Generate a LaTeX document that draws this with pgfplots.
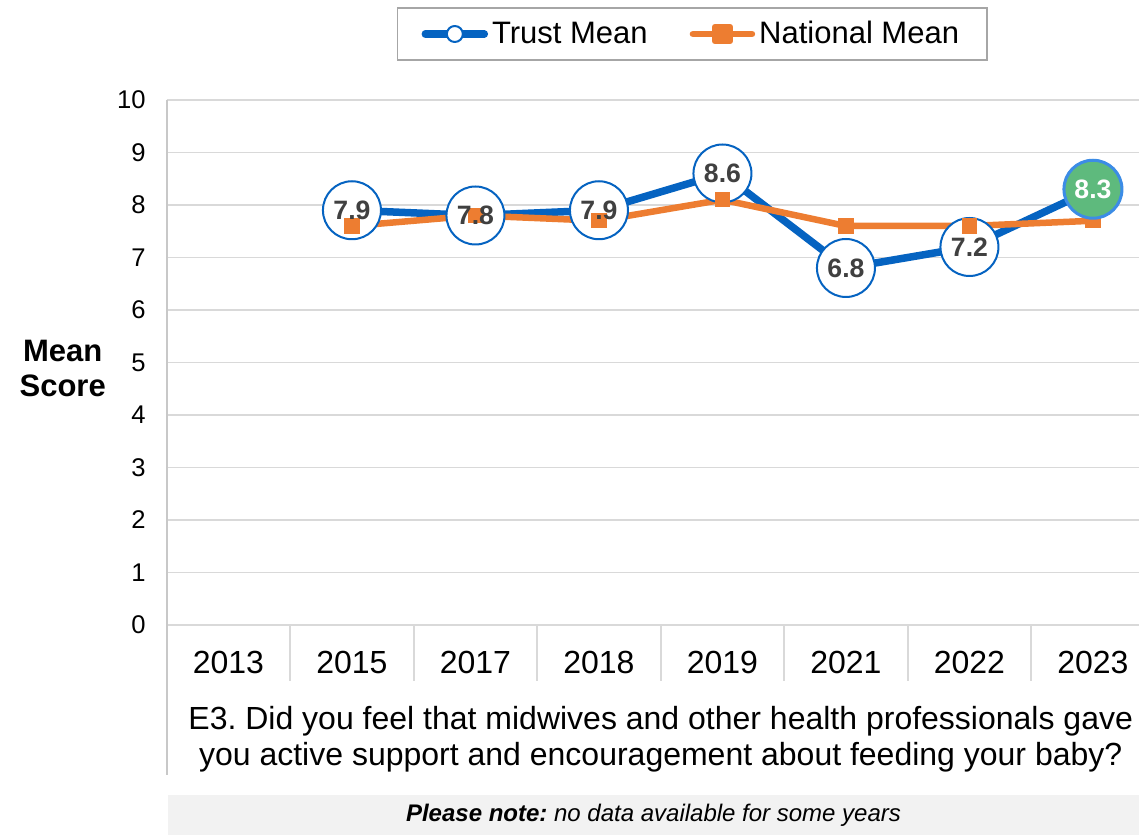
\documentclass[border=0pt]{standalone}
\usepackage{pgfplots}
\usepackage{pgfplotstable}
\pgfplotsset{compat=1.18}
\usepackage{fontspec}
\setmainfont{Liberation Sans}
\frenchspacing
\definecolor{trustblue}{RGB}{5,99,193}
\definecolor{natorange}{RGB}{237,125,49}
\definecolor{gridgray}{RGB}{217,217,217}
\definecolor{axisgray}{RGB}{200,200,200}
\definecolor{labelgray}{RGB}{64,64,64}
\definecolor{hlgreen}{RGB}{94,186,125}
\definecolor{hlblue}{RGB}{60,140,230}
\definecolor{notegray}{RGB}{242,242,242}
\definecolor{legendgray}{RGB}{166,166,166}

\pgfplotstableread{
x y
1 7.9
2 7.8
3 7.9
4 8.6
5 6.8
6 7.2
7 8.3
}\trust
\pgfplotstableread{
x y
1 7.6
2 7.8
3 7.7
4 8.1
5 7.6
6 7.6
7 7.7
}\national

\begin{document}
\begin{tikzpicture}
\begin{axis}[
  name=ax, at={(0,0)}, anchor=south west,
  scale only axis, width=486.15pt, height=262.5pt,
  xmin=-0.5, xmax=7.373, ymin=0, ymax=10,
  clip=false,
  axis line style={draw=none},
  tick style={draw=none},
  xtick={0,...,7},
  xticklabels={2013,2015,2017,2018,2019,2021,2022,2023},
  ytick={0,1,...,10},
  ymajorgrids, grid style={gridgray, line width=0.9pt},
  /pgf/number format/assume math mode=true,
  xticklabel style={font=\fontsize{16}{19}\selectfont, yshift=-9.5pt},
  yticklabel style={font=\fontsize{12.8}{15}\selectfont, xshift=-7pt},
  xlabel={E3. Did you feel that midwives and other health professionals gave\\you active support and encouragement about feeding your baby?},
  every axis x label/.style={at={(axis description cs:0.5081,0)}, anchor=center, yshift=-57pt, align=center, font=\fontsize{16}{18}\selectfont},
  ylabel={Mean\\Score},
  every axis y label/.style={at={(axis description cs:0,0.5)}, anchor=center, xshift=-52pt, yshift=-3pt, align=center, font=\bfseries\fontsize{15.5}{17.5}\selectfont},
  legend columns=2,
  legend style={at={(axis description cs:0.5406,1.1257)}, anchor=center, draw=legendgray, line width=0.8pt, font=\fontsize{15.5}{18}\selectfont, inner xsep=12pt, inner ysep=4.5pt, /tikz/every even column/.append style={column sep=19pt}},
]
\addplot[trustblue, line width=3.75pt, line join=round, mark=*, mark size=14.5pt,
  mark options={fill=white, draw=trustblue, line width=1pt},
  legend image code/.code={\draw[trustblue, line width=3.75pt, line cap=round] (0pt,0pt) -- (29.5pt,0pt); \draw[trustblue, fill=white, line width=1pt] (14.75pt,0pt) circle (4pt);}
  ] table {\trust};
\addlegendentry{Trust Mean}
\addplot[natorange, line width=3.25pt, line join=round, mark=square*, mark size=3.6pt,
  mark options={fill=natorange, draw=natorange, line width=0pt},
  legend image code/.code={\draw[natorange, line width=3.25pt, line cap=round] (0pt,0pt) -- (29.5pt,0pt); \fill[natorange] (11pt,-3.5pt) rectangle (18.5pt,3.5pt);}
  ] table {\national};
\addlegendentry{National Mean}
\addplot[only marks, forget plot, mark=*, mark size=14.5pt,
  mark options={fill=hlgreen, draw=hlblue, line width=1.5pt}]
  table[skip coords between index={0}{6}] {\trust};
\addplot[draw=none, forget plot, point meta=y,
  nodes near coords={\pgfmathprintnumber[fixed,fixed zerofill,precision=1]{\pgfplotspointmeta}},
  every node near coord/.append style={anchor=center, font=\bfseries\fontsize{13.3}{15}\selectfont, text=labelgray}]
  table[skip coords between index={6}{7}] {\trust};
\addplot[draw=none, forget plot, point meta=y,
  nodes near coords={\pgfmathprintnumber[fixed,fixed zerofill,precision=1]{\pgfplotspointmeta}},
  every node near coord/.append style={anchor=center, font=\bfseries\fontsize{13.3}{15}\selectfont, text=white}]
  table[skip coords between index={0}{6}] {\trust};
\draw[axisgray, line width=0.9pt] (axis cs:-0.5,10) -- ([yshift=-75pt]axis cs:-0.5,0);
\pgfplotsinvokeforeach{0.5,1.5,2.5,3.5,4.5,5.5,6.5}{
  \draw[gridgray, line width=0.9pt] (axis cs:#1,0) -- ([yshift=-28pt]axis cs:#1,0);
}
\end{axis}
\fill[notegray] ([shift={(0.65pt,-105pt)}]ax.south west) rectangle ([shift={(486.15pt,-85pt)}]ax.south west);
\node[font=\fontsize{12}{14}\selectfont] at ([shift={(243.4pt,-95pt)}]ax.south west) {\textbf{\textit{Please note:}} \textit{no data available for some years}};
\pgfresetboundingbox
\path[use as bounding box] ([shift={(-83.35pt,-105pt)}]ax.south west) rectangle ([shift={(486.15pt,312.5pt)}]ax.south west);
\end{tikzpicture}
\end{document}
